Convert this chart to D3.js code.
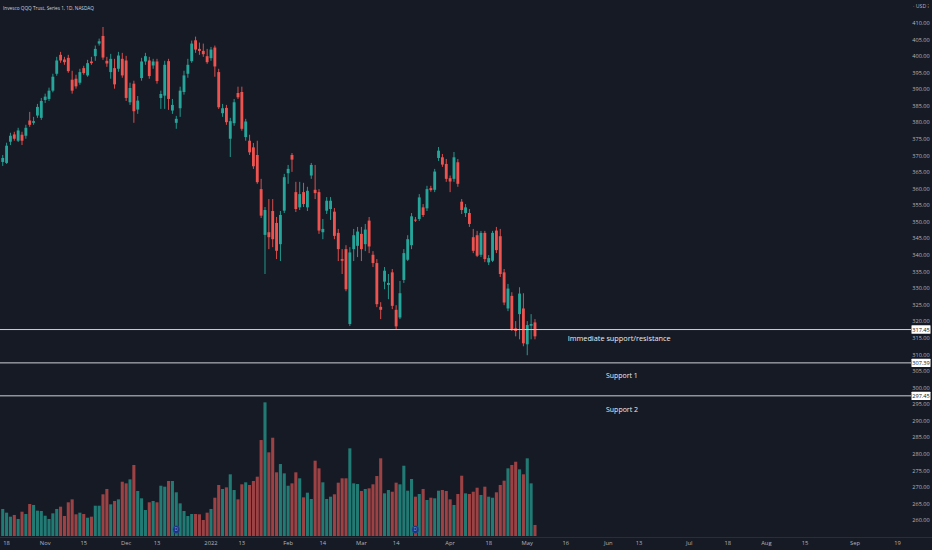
<!DOCTYPE html>
<html>
<head>
<meta charset="utf-8">
<script src="https://cdn.jsdelivr.net/npm/d3@7"></script>
<style>
  html, body { margin: 0; padding: 0; background: #161a25; }
  svg { display: block; }
  text { font-family: "Open Sans", "Noto Sans", "DejaVu Sans", sans-serif; }
</style>
</head>
<body>
<svg id="chart" width="932" height="550"></svg>
<script>
// ---------------- DATA ----------------
const title = "Invesco QQQ Trust, Series 1, 1D, NASDAQ";
const firstDay = "2021-10-15";
const lastAxisDay = "2022-09-21";
const marketHolidays = ["2021-11-25","2021-12-24","2022-01-17","2022-02-21","2022-04-15","2022-05-30","2022-06-20","2022-07-04","2022-09-05"];

const openPrices = [368.0,367.7,374.1,376.3,374.4,376.2,375.9,380.5,379.8,382.0,
381.3,386.7,387.0,389.5,394.6,400.3,398.9,399.4,392.8,393.1,
391.9,396.3,394.1,398.3,399.9,403.7,406.0,398.5,395.1,396.3,
396.1,399.1,398.6,386.0,391.6,383.8,393.3,398.3,398.6,397.1,
398.3,387.3,388.0,398.4,383.5,379.8,384.2,389.1,394.6,398.4,
404.7,402.1,401.5,399.9,399.3,402.5,395.1,382.7,384.3,375.0,
379.7,388.8,389.1,375.5,374.4,372.4,370.1,359.8,346.0,346.8,
353.2,349.6,343.2,353.3,364.6,370.1,358.9,354.3,358.9,354.3,
363.9,359.6,358.9,346.8,353.3,353.8,353.0,346.6,338.7,341.7,
319.1,341.7,342.7,346.3,343.2,350.3,340.0,337.5,324.3,331.9,
330.9,334.7,323.4,321.1,332.4,338.5,342.9,350.6,350.8,354.3,
354.0,360.1,359.6,369.2,369.4,367.4,363.1,362.9,367.9,356.0,
352.6,352.6,345.3,345.9,340.0,346.6,337.7,338.2,347.3,345.6,
334.7,323.8,327.6,317.8,322.1,323.8,313.0,318.6,319.6];

const highPrices = [370.1,373.8,376.8,377.1,378.3,377.1,379.2,383.1,381.6,385.5,
387.3,388.6,390.4,394.6,399.7,401.2,399.7,400.3,395.5,394.3,
396.1,397.0,398.8,399.7,403.1,405.2,408.7,399.7,400.6,399.1,
401.2,400.9,400.0,391.9,392.5,387.9,399.4,400.9,399.7,399.1,
399.1,389.5,398.5,399.1,387.0,381.9,390.7,395.5,399.1,404.6,
405.8,404.0,403.7,402.1,402.7,403.1,396.1,385.5,385.2,381.3,
387.0,390.7,390.7,381.0,376.2,373.7,374.4,362.9,354.4,356.8,
356.8,351.4,353.2,364.4,367.1,370.7,362.0,362.0,361.7,360.5,
367.7,367.1,359.8,350.8,357.4,357.4,354.1,347.8,341.7,342.9,
342.3,347.8,348.4,348.4,349.3,351.4,341.1,338.7,325.7,336.3,
334.2,335.7,324.8,332.1,341.7,345.9,352.6,351.4,358.3,355.3,
360.8,360.8,365.9,372.5,370.4,368.9,363.9,371.0,368.9,356.8,
355.3,353.8,347.8,347.2,347.2,347.2,339.9,347.2,348.4,347.8,
335.7,331.2,328.7,320.0,330.2,328.4,320.0,322.1,320.6];

const lowPrices = [366.8,367.4,373.1,374.4,374.0,373.1,375.0,378.6,379.2,381.3,
380.7,385.8,386.4,389.0,394.0,397.9,397.3,394.9,388.6,390.1,
391.3,394.3,393.7,397.3,398.5,403.1,398.8,396.7,393.1,390.1,
395.2,393.4,386.4,385.2,379.8,382.5,392.5,397.3,393.1,396.1,
391.6,384.0,384.0,383.7,382.5,378.0,381.6,388.3,393.4,397.9,
400.9,400.3,399.7,397.6,398.5,393.7,384.0,381.6,379.2,369.5,
378.9,387.0,377.4,374.4,370.1,365.9,361.4,351.1,334.2,341.7,
342.3,338.7,338.1,352.6,361.4,365.0,352.9,353.5,354.4,353.2,
362.9,356.8,346.3,344.7,352.3,350.5,344.7,338.1,334.2,329.0,
318.5,338.1,339.3,338.1,341.1,340.5,336.3,324.2,320.6,329.6,
326.6,323.6,317.6,320.6,331.5,338.1,341.7,349.9,350.2,351.4,
353.2,359.0,358.9,368.3,366.5,362.0,358.9,362.0,360.5,352.3,
351.4,348.4,340.5,339.3,339.3,337.8,336.9,337.8,340.5,333.3,
324.8,323.0,317.0,315.4,314.5,312.4,309.7,314.5,314.5];

const closePrices = [369.2,372.9,375.9,375.0,377.5,374.4,378.3,379.2,380.3,384.6,
386.4,387.7,389.5,393.7,398.6,398.6,398.1,395.4,389.5,390.8,
395.1,394.8,397.8,397.8,402.1,404.4,399.5,397.7,399.1,391.4,
400.1,394.1,387.3,390.3,383.3,386.5,398.3,399.9,393.9,398.3,
392.4,388.5,397.3,387.0,385.2,381.0,389.5,394.1,397.3,403.7,
401.9,401.5,400.5,398.1,401.9,396.8,384.5,384.2,380.0,380.3,
386.0,387.5,378.0,380.2,370.9,366.7,361.9,351.8,353.5,345.3,
344.7,341.2,352.0,363.4,365.9,368.7,353.8,358.3,355.3,359.3,
367.1,358.6,347.3,347.8,356.3,356.3,345.7,341.7,338.2,329.6,
340.7,345.9,347.0,341.7,347.6,342.5,337.5,325.1,323.4,335.2,
331.5,324.6,318.4,328.4,340.5,344.7,351.6,350.3,357.3,352.0,
359.8,359.5,365.1,371.4,367.2,362.9,362.1,369.4,361.4,353.5,
354.3,349.3,341.2,339.7,346.6,338.7,339.0,346.6,341.4,334.2,
325.6,329.8,317.6,317.0,328.3,313.3,318.8,319.1,315.4];

// volume, millions of shares
const volumes = [36.5,31.5,26.1,28.4,23.0,32.8,29.7,43.2,41.9,34.2,
33.8,27.4,23.0,30.6,36.5,39.6,27.0,45.5,49.5,29.3,
31.5,29.7,24.7,26.1,40.9,40.9,56.3,63.5,42.8,47.3,
49.5,73.3,71.1,76.5,95.9,60.8,50.9,35.1,45.5,47.3,
45.5,67.9,66.6,74.3,74.3,59.0,44.1,33.8,27.0,29.7,
29.7,29.3,21.6,31.5,36.5,51.7,68.9,63.5,65.7,83.3,
62.1,49.5,69.8,72.5,68.9,74.3,80.1,129.6,180.5,113.0,
132.7,86.0,97.2,84.6,67.9,71.1,86.0,77.9,52.2,58.5,
50.0,101.7,91.4,72.5,50.0,53.1,56.3,72.0,77.9,77.9,
118.4,71.1,70.2,60.8,63.5,64.4,69.8,81.0,104.9,57.6,
62.1,59.8,72.0,69.8,94.9,61.2,77.0,53.1,56.7,63.5,
48.6,51.7,50.9,61.2,62.1,60.8,49.5,41.9,56.7,81.4,
57.6,56.7,59.8,65.2,55.4,66.6,53.1,51.7,59.0,68.9,
74.7,91.4,95.9,100.3,90.0,83.3,104.9,71.1,14.9];

const levelPrices = [317.45, 307.39, 297.45];
const levelTexts = ["Immediate support/resistance", "Support 1", "Support 2"];
const dividendDays = ["2021-12-20", "2022-03-21"];

const priceTicks = [410,405,400,395,390,385,380,375,370,365,360,355,350,345,340,335,330,325,320,315,310,305,300,295,290,285,280,275,270,265,260];
const timeTicks = [["2021-10-18","18"],["2021-11-01","Nov"],["2021-11-15","15"],["2021-12-01","Dec"],["2021-12-13","13"],
  ["2022-01-03","2022"],["2022-01-13","13"],["2022-02-01","Feb"],["2022-02-14","14"],["2022-03-01","Mar"],["2022-03-14","14"],
  ["2022-04-01","Apr"],["2022-04-18","18"],["2022-05-02","May"],["2022-05-16","16"],["2022-06-01","Jun"],["2022-06-13","13"],
  ["2022-07-01","Jul"],["2022-07-18","18"],["2022-08-01","Aug"],["2022-08-15","15"],["2022-09-01","Sep"],["2022-09-19","19"]];

// ---------------- CALENDAR ----------------
const fmt = d3.utcFormat("%Y-%m-%d");
const parse = d3.utcParse("%Y-%m-%d");
const tradingDays = d3.utcDay.range(parse(firstDay), parse(lastAxisDay))
  .filter(d => d.getUTCDay() !== 0 && d.getUTCDay() !== 6 && !marketHolidays.includes(fmt(d)))
  .map(fmt);

const candles = openPrices.map((o, i) => ({
  day: tradingDays[i], o, h: highPrices[i], l: lowPrices[i], c: closePrices[i], v: volumes[i]
}));

// ---------------- STYLE ----------------
const BG = "#161a25";
const UP = "#26a69a", DOWN = "#ef5350";
const UP_VOL = "#217a73", DOWN_VOL = "#9c4244";
const AXIS_TEXT = "#b2b5be";

// ---------------- SCALES ----------------
const svg = d3.select("#chart");
svg.append("rect").attr("width", 932).attr("height", 550).attr("fill", BG);

const x = d3.scaleBand().domain(tradingDays).range([0.8, 903.3]).paddingInner(0);
const cx = d => x(d) + x.bandwidth() / 2;
const y = d3.scaleLinear().domain([410, 260]).range([22.7, 520]);
const yVol = d3.scaleLinear().domain([0, 200]).range([536, 387.9]);

// ---------------- VOLUME ----------------
const vw = x.bandwidth() * 0.8;
svg.append("g").selectAll("rect").data(candles).join("rect")
  .attr("x", d => cx(d.day) - vw / 2)
  .attr("width", vw)
  .attr("y", d => yVol(d.v))
  .attr("height", d => yVol(0) - yVol(d.v))
  .attr("fill", d => d.c >= d.o ? UP_VOL : DOWN_VOL);

// dividend markers
const divG = svg.append("g").selectAll("g").data(dividendDays).join("g")
  .attr("transform", d => `translate(${cx(d)},529.5)`);
divG.append("ellipse").attr("rx", 3.3).attr("ry", 3.8).attr("fill", "#1d3272").attr("stroke", "#2a4ea8").attr("stroke-width", 0.6);
divG.append("text").text("D").attr("text-anchor", "middle").attr("dy", "0.35em")
  .attr("font-size", 4.5).attr("fill", "#7da2ff");

// ---------------- CANDLES ----------------
const bw = x.bandwidth() * 0.74;
const cg = svg.append("g");
cg.selectAll("line").data(candles).join("line")
  .attr("x1", d => cx(d.day)).attr("x2", d => cx(d.day))
  .attr("y1", d => y(d.h)).attr("y2", d => y(d.l))
  .attr("stroke", d => d.c >= d.o ? UP : DOWN).attr("stroke-width", 0.9);
cg.selectAll("rect").data(candles).join("rect")
  .attr("x", d => cx(d.day) - bw / 2)
  .attr("width", bw)
  .attr("y", d => y(Math.max(d.o, d.c)))
  .attr("height", d => Math.max(1, Math.abs(y(d.o) - y(d.c))))
  .attr("fill", d => d.c >= d.o ? UP : DOWN);

// ---------------- LEVELS ----------------
const lv = svg.append("g");
lv.selectAll("line").data(levelPrices).join("line")
  .attr("x1", 0).attr("x2", 911)
  .attr("y1", d => y(d)).attr("y2", d => y(d))
  .attr("stroke", "#cfd0d4").attr("stroke-width", 1);

const textPos = [{x: 567.7, len: 103, dy: 11.6}, {x: 606, len: 31.7, dy: 14.8}, {x: 606, len: 32, dy: 16.2}];
lv.selectAll("text").data(levelTexts).join("text")
  .attr("x", (d, i) => textPos[i].x)
  .attr("y", (d, i) => y(levelPrices[i]) + textPos[i].dy)
  .attr("textLength", (d, i) => textPos[i].len)
  .attr("lengthAdjust", "spacingAndGlyphs")
  .attr("font-size", 7.6).attr("fill", "#eceef1")
  .text(d => d);

// ---------------- PRICE AXIS ----------------
const yAxis = svg.append("g").attr("transform", "translate(921,0)")
  .call(d3.axisRight(y).tickValues(priceTicks).tickFormat(d3.format(".2f")).tickSize(0).tickPadding(0));
yAxis.select(".domain").remove();
yAxis.selectAll("text").attr("text-anchor", "middle").attr("x", 0)
  .attr("fill", AXIS_TEXT).attr("font-size", 5.6)
  .attr("font-family", "\"Open Sans\", sans-serif");

// level value boxes
const boxes = svg.append("g").selectAll("g").data(levelPrices).join("g")
  .attr("transform", d => `translate(921,${y(d)})`);
boxes.append("rect").attr("x", -9.5).attr("y", -4.2).attr("width", 19).attr("height", 8.4).attr("fill", "#ffffff").attr("rx", 0.5);
boxes.append("text").text(d => d3.format(".2f")(d)).attr("text-anchor", "middle").attr("dy", "0.35em")
  .attr("font-size", 5.6).attr("fill", "#131722");

// currency label
svg.append("text").attr("x", 921).attr("y", 7.5).attr("text-anchor", "middle")
  .attr("font-size", 5.2).attr("fill", AXIS_TEXT).text("· USD ⁝");

// ---------------- TIME AXIS ----------------
svg.append("line").attr("x1", 0).attr("x2", 932).attr("y1", 537.5).attr("y2", 537.5)
  .attr("stroke", "#2a2e39").attr("stroke-width", 1);
const tickMap = new Map(timeTicks);
const xAxis = svg.append("g").attr("transform", "translate(0,537)")
  .call(d3.axisBottom(x).tickValues(timeTicks.map(t => t[0])).tickFormat(d => tickMap.get(d)).tickSize(0).tickPadding(4.2));
xAxis.select(".domain").remove();
xAxis.selectAll("text").attr("fill", AXIS_TEXT).attr("font-size", 5.8)
  .attr("font-family", "\"Open Sans\", sans-serif");

// ---------------- TITLE ----------------
svg.append("text").attr("x", 3).attr("y", 9.6).attr("font-size", 5.8)
  .attr("fill", "#d1d4dc").attr("textLength", 91).attr("lengthAdjust", "spacingAndGlyphs")
  .text(title);
</script>
</body>
</html>
